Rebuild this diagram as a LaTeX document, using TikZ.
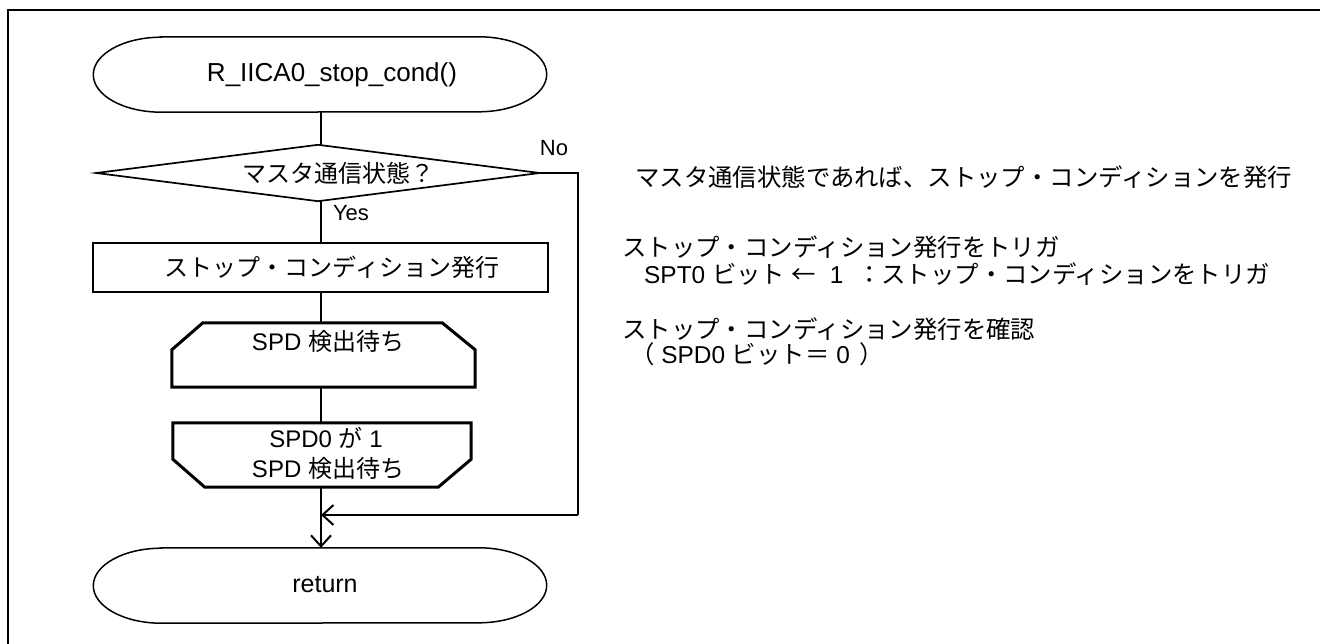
\documentclass[tikz,border=0pt]{standalone}
\usepackage{fontspec}
\setmainfont{Liberation Sans}
\newfontfamily\jp{Noto Sans CJK JP}
\usetikzlibrary{arrows.meta,calc}
\newcommand\J[1]{{\jp #1}}
\begin{document}
\begin{tikzpicture}[x=1pt,y=-1pt,
  txt/.style={inner sep=0pt,font=\fontsize{24}{29}\selectfont},
  lbl/.style={inner sep=0pt,font=\fontsize{22}{26}\selectfont},
  note/.style={inner sep=0pt,anchor=west,font=\fontsize{24.4}{29}\selectfont},
  shape box/.style={rectangle,inner sep=0pt,draw=none},
  termline/.style={line width=1.5pt},
  boxline/.style={line width=1.7pt},
  loopline/.style={line width=3pt,line join=miter},
  conn/.style={line width=2pt},
  arr/.style={line width=2pt,-{Straight Barb[length=11pt,width=20pt,line width=2pt]}}
]
\useasboundingbox (0,0) rectangle (1320,644);
\fill[white] (0,0) rectangle (1320,644);
\draw[line width=2pt] (8,10) rectangle (1340,664);

% node frames
\node[shape box,minimum width=453pt,minimum height=75pt] (start) at (320,74.5) {};
\node[shape box,minimum width=443pt,minimum height=56pt] (dec) at (318,173) {};
\node[shape box,minimum width=455pt,minimum height=49pt] (proc) at (320.5,267.5) {};
\node[shape box,minimum width=303pt,minimum height=64pt] (ls) at (323.5,355) {};
\node[shape box,minimum width=298pt,minimum height=64pt] (le) at (322,455) {};
\node[shape box,minimum width=453pt,minimum height=75pt] (ret) at (320,585.5) {};
\coordinate (mcorner) at (578,515);
\coordinate (merge) at (321,515);

% terminals
\draw[termline] ([xshift=68pt]start.north west) -- ([xshift=-68pt]start.north east)
  arc[start angle=90,end angle=-90,x radius=68pt,y radius=37.5pt]
  -- ([xshift=68pt]start.south west)
  arc[start angle=270,end angle=90,x radius=68pt,y radius=37.5pt] -- cycle;
\draw[termline] ([xshift=68pt]ret.north west) -- ([xshift=-68pt]ret.north east)
  arc[start angle=90,end angle=-90,x radius=68pt,y radius=37.5pt]
  -- ([xshift=68pt]ret.south west)
  arc[start angle=270,end angle=90,x radius=68pt,y radius=37.5pt] -- cycle;
% decision
\draw[boxline,line join=miter] (dec.west) -- (dec.north) -- (dec.east) -- (dec.south) -- cycle;
% process
\draw[boxline] (proc.north west) rectangle (proc.south east);
% loop start
\draw[loopline] ([yshift=-27pt]ls.north west) -- ([xshift=31pt]ls.north west)
  -- ([xshift=-33pt]ls.north east) -- ([yshift=-27pt]ls.north east)
  -- (ls.south east) -- (ls.south west) -- cycle;
% loop end
\draw[loopline] (le.north west) -- (le.north east) -- ([yshift=28pt]le.south east)
  -- ([xshift=-33pt]le.south east) -- ([xshift=32pt]le.south west)
  -- ([yshift=28pt]le.south west) -- cycle;

% connectors
\draw[conn] (start.south -| merge) -- (dec.north -| merge);
\draw[conn] (dec.south -| merge) -- (proc.north -| merge);
\draw[conn] (proc.south -| merge) -- (ls.north -| merge);
\draw[conn] (ls.south -| merge) -- (le.north -| merge);
\draw[arr] (le.south -| merge) -- (ret.north -| merge);
\draw[conn] (dec.east) -| (mcorner);
\draw[arr] (mcorner) -- (merge);

% texts
\node[txt,font=\fontsize{26}{30}\selectfont] (tstart) at (332,75) {R\_IICA0\_stop\_cond()};
\node[txt] (tdec) at (338,173) {\J{マスタ通信状態？}};
\node[lbl] (tno) at (554,148) {No};
\node[lbl] (tyes) at (351,213) {Yes};
\node[txt] (tproc) at (332,267) {\J{ストップ・コンディション発行}};
\node[txt] (tls) at (328,341) {SPD \J{検出待ち}};
\node[txt] (tle1) at (326,438) {SPD0 \J{が} 1};
\node[txt] (tle2) at (328,468) {SPD \J{検出待ち}};
\node[txt,font=\fontsize{25}{30}\selectfont] (tret) at (325,585) {return};

\node[note] (n1) at (635,177) {\J{マスタ通信状態であれば、ストップ・コンディションを発行}};
\node[note] (n2) at (622,247) {\J{ストップ・コンディション発行をトリガ}};
\node[note] (n3) at (644,274) {SPT0 \J{ビット} \J{←}\ \ 1\ \ \J{：ストップ・コンディションをトリガ}};
\node[note] (n4) at (622,329) {\J{ストップ・コンディション発行を確認}};
\node[note] (n5) at (630,354) {\J{（} SPD0 \J{ビット＝} 0\hspace{10pt}\J{）}};
\end{tikzpicture}
\end{document}
